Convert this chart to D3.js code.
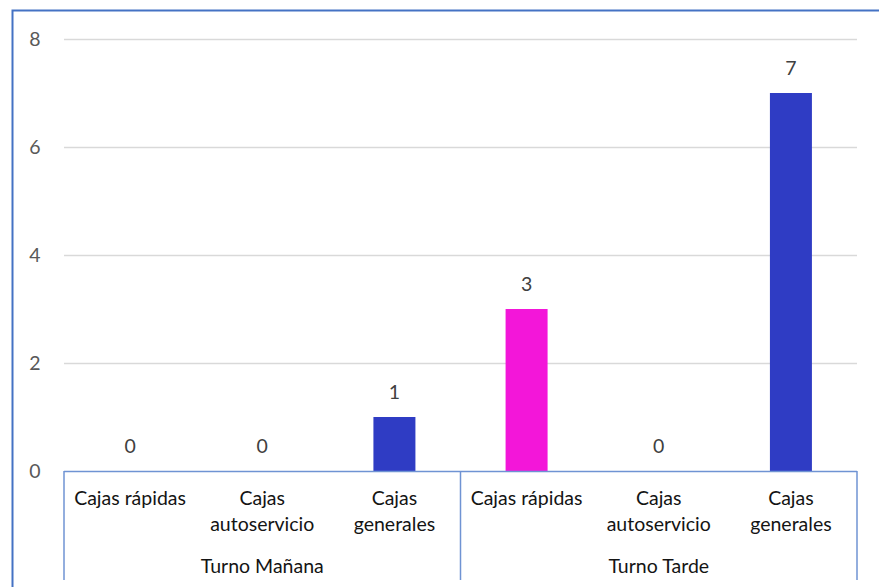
<!DOCTYPE html>
<html>
<head>
<meta charset="utf-8">
<script src="https://cdn.jsdelivr.net/npm/d3@7"></script>
<style>
  html, body { margin: 0; padding: 0; background: #fff; }
  svg text { font-family: Lato, "Open Sans", "Liberation Sans", sans-serif; fill: #595959; }
</style>
</head>
<body>
<svg id="chart" width="879" height="587"></svg>
<script>
// Data: number of checkouts per shift and type
const groups = ["Turno Mañana", "Turno Tarde"];
const categories = ["Cajas rápidas", "Cajas autoservicio", "Cajas generales"];
const categoryLines = [["Cajas rápidas"], ["Cajas", "autoservicio"], ["Cajas", "generales"]];
const valuesManana = [0, 0, 1];
const valuesTarde = [3, 0, 7];
const yTicks = [0, 2, 4, 6, 8];
const barColors = ["#F316D9", "#2F3CC4", "#2F3CC4"];

const rows = [];
groups.forEach((g, gi) => {
  const vals = gi === 0 ? valuesManana : valuesTarde;
  categories.forEach((c, ci) => rows.push({ key: gi + "-" + ci, group: g, cat: c, ci, value: vals[ci] }));
});

const svg = d3.select("#chart");
const m = { left: 64, right: 857, top: 39, bottom: 471 };
const fs = 19.5;

// Outer frame
svg.append("rect")
  .attr("x", 12.5).attr("y", 10.5).attr("width", 900).attr("height", 600)
  .attr("fill", "none").attr("stroke", "#4472C4").attr("stroke-width", 2);

const x = d3.scaleBand().domain(rows.map(d => d.key)).range([m.left, m.right]).padding(0);
const y = d3.scaleLinear().domain([0, 8]).range([m.bottom, m.top]);

// Gridlines
svg.append("g").selectAll("line").data(yTicks.filter(t => t > 0)).join("line")
  .attr("x1", m.left).attr("x2", m.right)
  .attr("y1", d => y(d) + 0.5).attr("y2", d => y(d) + 0.5)
  .attr("stroke", "#D9D9D9").attr("stroke-width", 1.5);

// Y tick labels
svg.append("g").selectAll("text").data(yTicks).join("text")
  .attr("x", 35).attr("y", d => y(d))
  .attr("dy", "0.35em").attr("text-anchor", "middle")
  .attr("font-size", fs).text(d => d);

// Bars
const bw = 42;
svg.append("g").selectAll("rect").data(rows).join("rect")
  .attr("x", d => x(d.key) + x.bandwidth() / 2 - bw / 2)
  .attr("width", bw)
  .attr("y", d => y(d.value))
  .attr("height", d => y(0) - y(d.value))
  .attr("fill", d => barColors[d.ci]);

// Value labels
svg.append("g").selectAll("text").data(rows).join("text")
  .attr("x", d => x(d.key) + x.bandwidth() / 2)
  .attr("y", d => y(d.value) - 18)
  .attr("text-anchor", "middle").attr("font-size", fs)
  .style("fill", "#404040")
  .text(d => d.value);

// Category axis
const axisColor = "#6F93D3";
svg.append("line")
  .attr("x1", m.left).attr("x2", m.right)
  .attr("y1", m.bottom + 0.5).attr("y2", m.bottom + 0.5)
  .attr("stroke", axisColor).attr("stroke-width", 1.5);

const sepX = [m.left, x(rows[3].key), m.right];
svg.append("g").selectAll("line").data(sepX).join("line")
  .attr("x1", d => d).attr("x2", d => d)
  .attr("y1", m.bottom).attr("y2", 580)
  .attr("stroke", axisColor).attr("stroke-width", 1.5);

// Category labels
const catG = svg.append("g").selectAll("text").data(rows).join("text")
  .attr("text-anchor", "middle").attr("font-size", fs)
  .style("fill", "#141414");
catG.each(function(d) {
  const t = d3.select(this);
  categoryLines[d.ci].forEach((ln, li) => {
    t.append("tspan")
      .attr("x", x(d.key) + x.bandwidth() / 2)
      .attr("y", 505 + li * 26)
      .text(ln);
  });
});

// Group labels
svg.append("g").selectAll("text").data(groups).join("text")
  .attr("x", (d, i) => (sepX[i] + sepX[i + 1]) / 2)
  .attr("y", 573)
  .attr("text-anchor", "middle").attr("font-size", fs)
  .style("fill", "#141414")
  .text(d => d);
</script>
</body>
</html>
